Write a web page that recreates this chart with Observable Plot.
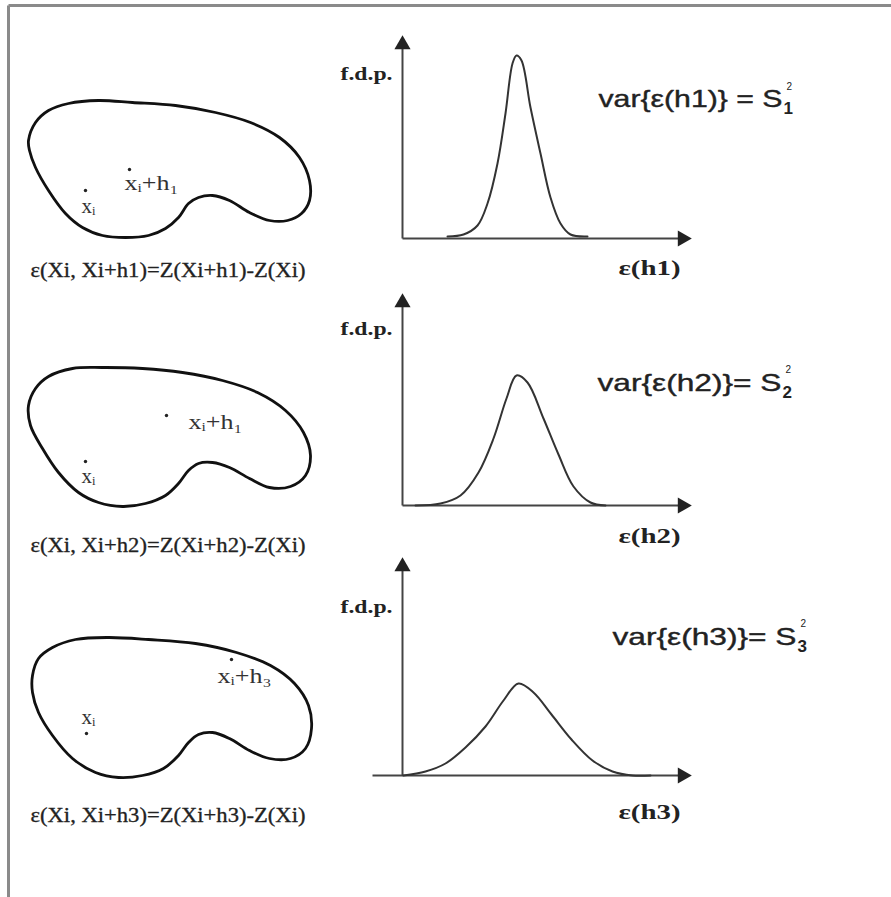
<!DOCTYPE html>
<html><head><meta charset="utf-8">
<script src="https://cdn.jsdelivr.net/npm/d3@7"></script>
<script src="https://cdn.jsdelivr.net/npm/@observablehq/plot@0.6"></script>
<style>
body{margin:0;background:#fff}
#chart svg{display:block;background:#fff}
</style>
</head><body><div id="chart"></div>
<script>
// ---------- data (page units) ----------
const panels = [1, 2, 3];

// outline of the region (one per panel)
const blob1 = [[28,140],[35,122],[48,110],[68,103],[98,100],[132,102],[175,105],[215,112],[250,122],[279,137],[299,157],[309,180],[309,200],[301,213],[287,220],[269,220],[249,212],[229,200],[212,195],[198,197],[188,203],[178,217],[165,228],[148,235],[125,237],[102,235],[82,227],[65,213],[48,190],[35,167],[29,150]];
const blob2 = [[28,405],[35,388],[48,376],[72,368],[102,367],[142,368],[182,372],[222,380],[257,392],[285,410],[303,432],[310,455],[305,475],[290,486],[269,487],[249,478],[229,467],[212,462],[198,463],[188,470],[178,483],[165,495],[145,503],[122,506],[98,502],[78,492],[58,472],[42,448],[30,425]];
const blob3 = [[32,675],[38,658],[52,647],[75,639],[108,637],[148,639],[195,643],[236,652],[270,665],[294,683],[308,705],[311,728],[305,748],[290,758],[269,758],[249,750],[229,738],[212,732],[198,734],[188,742],[178,755],[163,768],[142,775],[118,777],[95,772],[72,758],[52,735],[38,712],[32,692]];

// probability density curves
const pdf1 = [[447,236],[463,234],[477,225],[487,203],[497,163],[505,113],[512,63],[516,55],[521,60],[530,107],[540,153],[550,197],[560,223],[570,234],[587,236]];
const pdf2 = [[415,505],[440,503],[460,495],[478,472],[493,438],[506,398],[516,375],[527,382],[543,418],[558,454],[573,486],[590,502],[605,505]];
const pdf3 = [[403,775],[425,771],[445,763],[465,747],[485,726],[503,700],[518,683],[533,692],[551,714],[571,739],[592,760],[612,771],[632,775],[650,775]];

// axes (panel, x1, y1, x2, y2)
const axisLines = [
  [1,402,238,402,42],[1,402,238,682,238],
  [2,402,505,402,300],[2,402,505,682,505],
  [3,402,775,402,564],[3,372,775,682,775]
];
const arrowHeads = [[402,44,0],[682,238,90],[402,302,0],[682,505,90],[402,566,0],[682,775,90]];

// points in the region
const pointsXi  = [[85,190],[85,461],[86,733]];
const pointsXih = [[129,169],[166,415],[231,659]];
const labelXi   = [[88,206,"xᵢ"],[88,476,"xᵢ"],[88,717,"xᵢ"]];
const labelXih  = [[124,183,"xᵢ+h₁"],[188,422,"xᵢ+h₁"],[217,676,"xᵢ+h₃"]];

// texts
const captions = [[30,270,"ε(Xi, Xi+h1)=Z(Xi+h1)-Z(Xi)"],[30,545,"ε(Xi, Xi+h2)=Z(Xi+h2)-Z(Xi)"],[30,815,"ε(Xi, Xi+h3)=Z(Xi+h3)-Z(Xi)"]];
const yLabels  = [[392,73,"f.d.p."],[392,328,"f.d.p."],[392,606,"f.d.p."]];
const xLabels  = [[618,268,"ε(h1)"],[618,536,"ε(h2)"],[618,812,"ε(h3)"]];
const varLabels = [[782,99,"var{ε(h1)} = S"],[781,383,"var{ε(h2)}= S"],[796,637,"var{ε(h3)}= S"]];
const supLabels = [[786,86,"2"],[785,369,"2"],[800,623,"2"]];
const subLabels = [[783,108,"1"],[782,392,"2"],[797,646,"3"]];

const frameLines = [[8,5,891,5],[8,5,8,897]];

// ---------- build tables ----------
const toPts = (arr, panel) => arr.map(([x, y]) => ({panel, x, y}));
const blobs = [...toPts(blob1,1), ...toPts(blob2,2), ...toPts(blob3,3)];
const pdfs  = [...toPts(pdf1,1), ...toPts(pdf2,2), ...toPts(pdf3,3)];
const links = axisLines.map(([panel,x1,y1,x2,y2]) => ({panel,x1,y1,x2,y2}));
const heads = arrowHeads.map(([x,y,r]) => ({x,y,r}));
const txt = arr => arr.map(([x,y,t]) => ({x,y,t}));
const frame = frameLines.map(([x1,y1,x2,y2]) => ({x1,y1,x2,y2}));

const serif = "'Liberation Serif', 'DejaVu Serif', serif";
const sans = "'Liberation Sans', 'DejaVu Sans', sans-serif";

const chart = Plot.plot({
  width: 891, height: 897,
  margin: 0,
  x: {domain: [0, 891], range: [0, 891], axis: null},
  y: {domain: [0, 897], range: [0, 897], axis: null},
  marks: [
    Plot.link(frame, {x1:"x1", y1:"y1", x2:"x2", y2:"y2", stroke:"#8a8a8a", strokeWidth:3}),
    Plot.line(blobs, {x:"x", y:"y", z:"panel", curve:"catmull-rom-closed", stroke:"#111", strokeWidth:2.8}),
    Plot.link(links, {x1:"x1", y1:"y1", x2:"x2", y2:"y2", stroke:"#444", strokeWidth:2}),
    Plot.dot(heads, {x:"x", y:"y", rotate:"r", symbol:"triangle", r:6, fill:"#222", stroke:null}),
    Plot.line(pdfs, {x:"x", y:"y", z:"panel", curve:"catmull-rom", stroke:"#333", strokeWidth:2}),
    Plot.dot([...pointsXi, ...pointsXih].map(([x,y])=>({x,y})), {x:"x", y:"y", r:1.7, fill:"#222", stroke:null}),
    Plot.text(txt(labelXi), {x:"x", y:"y", text:"t", fontFamily:serif, fontSize:21, fill:"#333", textAnchor:"middle", ariaDescription:"lab-xi"}),
    Plot.text(txt(labelXih), {x:"x", y:"y", text:"t", fontFamily:serif, fontSize:21, fill:"#333", textAnchor:"start", ariaDescription:"lab-xih"}),
    Plot.text(txt(captions), {x:"x", y:"y", text:"t", fontFamily:serif, fontSize:20, fill:"#222", stroke:"#222", strokeWidth:0.3, textAnchor:"start", ariaDescription:"caption"}),
    Plot.text(txt(yLabels), {x:"x", y:"y", text:"t", fontFamily:serif, fontSize:19, fontWeight:"bold", fill:"#222", textAnchor:"end", ariaDescription:"ylab"}),
    Plot.text(txt(xLabels), {x:"x", y:"y", text:"t", fontFamily:serif, fontSize:20, fontWeight:"bold", fill:"#222", textAnchor:"start", ariaDescription:"xlab"}),
    Plot.text(txt(varLabels), {x:"x", y:"y", text:"t", fontFamily:sans, fontSize:24, fill:"#222", stroke:"#222", strokeWidth:0.4, textAnchor:"end", ariaDescription:"var"}),
    Plot.text(txt(supLabels), {x:"x", y:"y", text:"t", fontFamily:sans, fontSize:10, fill:"#222", textAnchor:"start"}),
    Plot.text(txt(subLabels), {x:"x", y:"y", text:"t", fontFamily:sans, fontSize:17, fontWeight:"bold", fill:"#222", textAnchor:"start"})
  ]
});

// stretch texts to the widths measured on the reference
const widths = {"caption": 275, "var": 184, "xlab": 62, "ylab": 52, "lab-xih": 54};
for (const [key, w] of Object.entries(widths)) {
  d3.select(chart).selectAll(`g[aria-description="${key}"] text`)
    .attr("textLength", w).attr("lengthAdjust", "spacingAndGlyphs");
}
document.getElementById("chart").appendChild(chart);
</script>
</body></html>
